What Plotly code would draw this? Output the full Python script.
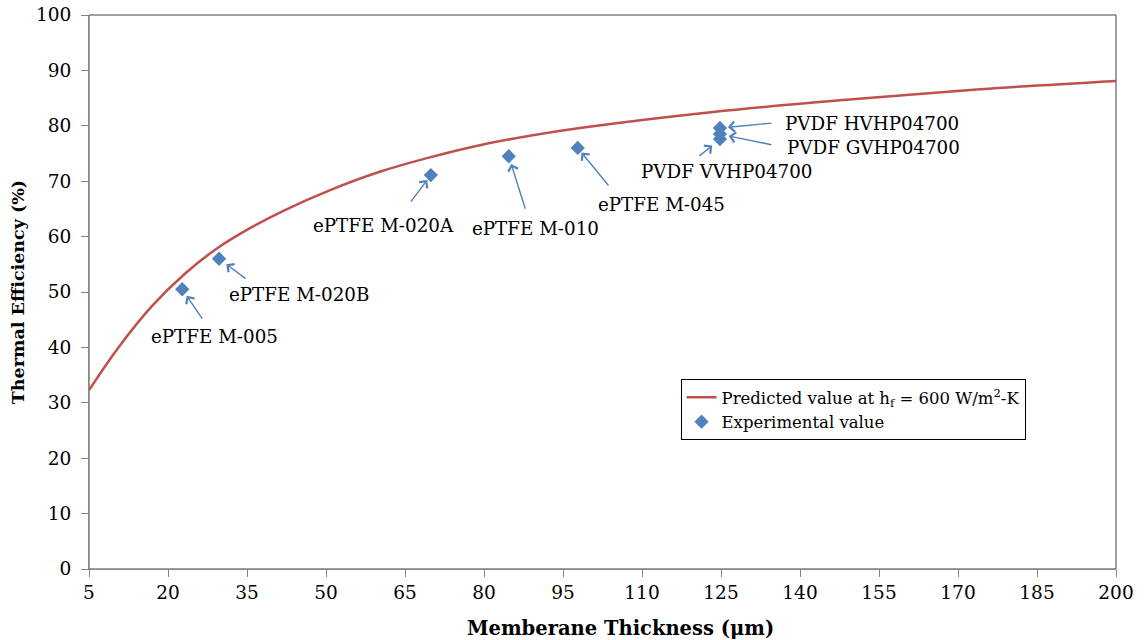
import plotly.graph_objects as go

# Predicted thermal efficiency curve (h_f = 600 W/m2-K)
thickness_pred = [5, 10.6, 16.9, 23.2, 29.5, 35.9, 42.2, 50.8, 60.2, 69.7,
                  79.2, 88.7, 98.2, 123.5, 148.8, 174.2, 200]
efficiency_pred = [32.3, 40.0, 47.4, 53.3, 58.0, 61.7, 64.8, 68.4, 71.7, 74.3,
                   76.5, 78.2, 79.6, 82.5, 84.7, 86.6, 88.1]

# Experimental membranes
membranes = ["ePTFE M-005", "ePTFE M-020B", "ePTFE M-020A", "ePTFE M-010",
             "ePTFE M-045", "PVDF HVHP04700", "PVDF GVHP04700", "PVDF VVHP04700"]
thickness_exp = [22.7, 29.7, 69.9, 84.7, 97.8, 124.8, 124.8, 124.8]
efficiency_exp = [50.5, 56.0, 71.1, 74.5, 76.0, 79.6, 78.5, 77.6]

x_ticks = list(range(5, 201, 15))
y_ticks = list(range(0, 101, 10))

SERIF = "DejaVu Serif"
RED = "#C0504D"
BLUE = "#4F81BD"
AXIS_GREY = "#868686"

fig = go.Figure()
fig.add_trace(go.Scatter(
    x=thickness_pred, y=efficiency_pred, mode="lines",
    line=dict(color=RED, width=2.5, shape="spline", smoothing=1.0),
    name="Predicted value at h<sub>f</sub> = 600 W/m<sup>2</sup>-K",
))
fig.add_trace(go.Scatter(
    x=thickness_exp, y=efficiency_exp, mode="markers",
    marker=dict(symbol="diamond", size=11, color=BLUE),
    name="Experimental value",
))

# arrow tail offsets (px), standoff (px), label offsets (px), label anchor
callouts = {
    "ePTFE M-005":    dict(ax=21, ay=31, so=8, dx=32, dy=-47, anchor="center"),
    "ePTFE M-020B":   dict(ax=28, ay=21, so=9, dx=80, dy=-36, anchor="center"),
    "ePTFE M-020A":   dict(ax=-21, ay=28, so=6, dx=-47, dy=-50, anchor="center"),
    "ePTFE M-010":    dict(ax=17, ay=54, so=8, dx=27, dy=-72, anchor="center"),
    "ePTFE M-045":    dict(ax=32, ay=39, so=6, dx=84, dy=-57, anchor="center"),
    "PVDF HVHP04700": dict(ax=53, ay=-5, so=8, dx=63, dy=5, anchor="left"),
    "PVDF GVHP04700": dict(ax=53, ay=11, so=9, dx=65, dy=-13, anchor="left"),
    "PVDF VVHP04700": dict(ax=-22, ay=18, so=10, dx=7, dy=-32, anchor="center"),
}

annotations = []
for name, tx, ty in zip(membranes, thickness_exp, efficiency_exp):
    c = callouts[name]
    annotations.append(dict(
        x=tx, y=ty, xref="x", yref="y", text="", showarrow=True,
        ax=c["ax"], ay=c["ay"], standoff=c["so"],
        arrowhead=4, arrowsize=1.4, arrowwidth=1.4, arrowcolor=BLUE,
    ))
    annotations.append(dict(
        x=tx, y=ty, xref="x", yref="y", text=name, showarrow=False,
        xshift=c["dx"], yshift=c["dy"], xanchor=c["anchor"], yanchor="middle",
        font=dict(family=SERIF, size=18.3, color="black"),
    ))

# x-axis title, set slightly right of the plot centre
annotations.append(dict(
    x=0.5, y=0, xref="paper", yref="paper", showarrow=False,
    text="<b>Memberane Thickness (μm)</b>", xshift=18, yshift=-59,
    xanchor="center", yanchor="middle",
    font=dict(family=SERIF, size=19.5, color="black"),
))

fig.update_layout(
    width=1144, height=640,
    margin=dict(l=89, r=28, t=15, b=71),
    paper_bgcolor="white", plot_bgcolor="white",
    font=dict(family=SERIF, size=18, color="black"),
    showlegend=True,
    legend=dict(
        x=0.576, y=0.343, xanchor="left", yanchor="top",
        bordercolor="black", borderwidth=1, bgcolor="white",
        font=dict(family=SERIF, size=16.5, color="black"),
        tracegroupgap=0, itemwidth=30,
    ),
    annotations=annotations,
    shapes=[dict(type="rect", xref="paper", yref="paper", x0=0, x1=1, y0=0, y1=1,
                 line=dict(color="#404040", width=1), layer="below")],
)

fig.update_xaxes(
    range=[5, 200], tickvals=x_ticks, ticktext=[str(v) for v in x_ticks],
    showgrid=False, zeroline=False, automargin=False,
    showline=True, linecolor=AXIS_GREY, linewidth=1,
    ticks="outside", ticklen=7, tickcolor=AXIS_GREY,
    tickfont=dict(family=SERIF, size=18.5, color="black"),
)
fig.update_yaxes(
    range=[0, 100], tickvals=y_ticks, ticktext=[str(v) for v in y_ticks],
    showgrid=False, zeroline=False, automargin=False,
    showline=True, linecolor=AXIS_GREY, linewidth=1,
    ticks="outside", ticklen=7, tickcolor=AXIS_GREY, ticklabelstandoff=6,
    tickfont=dict(family=SERIF, size=18.5, color="black"),
    title=dict(text="<b>Thermal Efficiency (%)</b>", standoff=6,
               font=dict(family=SERIF, size=17.5, color="black")),
)

fig.write_html("out.html")
